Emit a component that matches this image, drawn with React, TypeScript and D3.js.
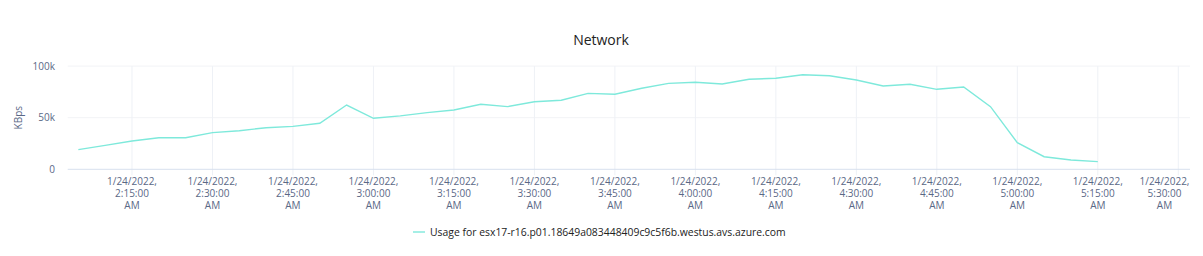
import React from "react";
import * as d3 from "d3";

const times = [
  "02:05", "02:10", "02:15", "02:20", "02:25", "02:30", "02:35", "02:40", "02:45", "02:50",
  "02:55", "03:00", "03:05", "03:10", "03:15", "03:20", "03:25", "03:30", "03:35", "03:40",
  "03:45", "03:50", "03:55", "04:00", "04:05", "04:10", "04:15", "04:20", "04:25", "04:30",
  "04:35", "04:40", "04:45", "04:50", "04:55", "05:00", "05:05", "05:10", "05:15",
];
const usage = [
  19.1, 23.2, 27.4, 30.6, 30.6, 35.5, 37.4, 40.3, 41.6, 44.6,
  62.3, 49.4, 51.8, 54.9, 57.5, 63.0, 60.7, 65.5, 66.9, 73.6,
  72.7, 78.5, 83.3, 84.3, 82.7, 87.2, 88.2, 91.6, 90.7, 86.5,
  80.7, 82.4, 77.5, 79.7, 60.7, 25.8, 12.2, 9.0, 7.4,
].map((v) => v * 1000);
const xTickTimes = [
  "02:15", "02:30", "02:45", "03:00", "03:15", "03:30", "03:45",
  "04:00", "04:15", "04:30", "04:45", "05:00", "05:15", "05:30",
];
const yTicks = [0, 50000, 100000];
const domainStart = "02:03:01";
const domainEnd = "05:32:11";
const title = "Network";
const yTitle = "KBps";
const seriesName = "Usage for esx17-r16.p01.18649a083448409c9c5f6b.westus.avs.azure.com";

const parse = (s: string) => {
  const [h, m, sec] = s.split(":").map(Number);
  return new Date(2022, 0, 24, h, m, sec || 0);
};

const W = 1203;
const H = 256;
const M = { left: 67.7, right: 1190, top: 66.1, bottom: 169.3 };
const FONT = "'Open Sans', 'Noto Sans', sans-serif";
const LABEL = "#5a6886";
const LINE = "#7ee9db";
const HALF_LABEL = 25.5;

export default function App() {
  const x = d3.scaleTime().domain([parse(domainStart), parse(domainEnd)]).range([M.left, M.right]);
  const y = d3.scaleLinear().domain([0, 100000]).range([M.bottom, M.top]);
  const pts = times.map((t, i) => [parse(t), usage[i]] as [Date, number]);
  const line = d3.line<[Date, number]>().x((d) => x(d[0])).y((d) => y(d[1]));
  const fmtK = (v: number) => (v === 0 ? "0" : `${v / 1000}k`);
  const tickLabel = (t: string) => {
    const [h, m] = t.split(":").map(Number);
    return ["1/24/2022,", `${h}:${String(m).padStart(2, "0")}:00`, "AM"];
  };
  return (
    <>
      <style>{`body{margin:0}`}</style>
      <svg width={W} height={H} style={{ display: "block", fontFamily: FONT }}>
        <rect width={W} height={H} fill="#fff" />
        <text x={601} y={45} textAnchor="middle" fontSize={14} fill="#222">{title}</text>
        {yTicks.filter((v) => v > 0).map((v) => (
          <line key={v} x1={M.left} x2={M.right} y1={y(v)} y2={y(v)} stroke="#f2f3f6" />
        ))}
        {xTickTimes.map((t) => (
          <line key={t} x1={x(parse(t))} x2={x(parse(t))} y1={M.top} y2={M.bottom + 6} stroke="#eef1f6" />
        ))}
        <line x1={M.left} x2={M.right} y1={M.bottom} y2={M.bottom} stroke="#d8e0ee" />
        {yTicks.map((v) => (
          <text key={v} x={55} y={y(v)} dy="0.35em" textAnchor="end" fontSize={10} fill={LABEL}>{fmtK(v)}</text>
        ))}
        <text transform={`translate(22,${(M.top + M.bottom) / 2}) rotate(-90)`} textAnchor="middle" fontSize={10} fill={LABEL}>{yTitle}</text>
        {xTickTimes.map((t) => {
          const cx = Math.min(x(parse(t)), M.right - HALF_LABEL);
          return (
            <text key={t} x={cx} y={185} textAnchor="middle" fontSize={10} fill={LABEL}>
              {tickLabel(t).map((s, i) => (
                <tspan key={i} x={cx} dy={i === 0 ? 0 : 12}>{s}</tspan>
              ))}
            </text>
          );
        })}
        <path d={line(pts) || ""} fill="none" stroke={LINE} strokeWidth={1.4} />
        <line x1={413} x2={425} y1={232} y2={232} stroke={LINE} strokeWidth={1.4} />
        <text x={430} y={232} dy="0.35em" fontSize={10.4} fill="#222">{seriesName}</text>
      </svg>
    </>
  );
}
